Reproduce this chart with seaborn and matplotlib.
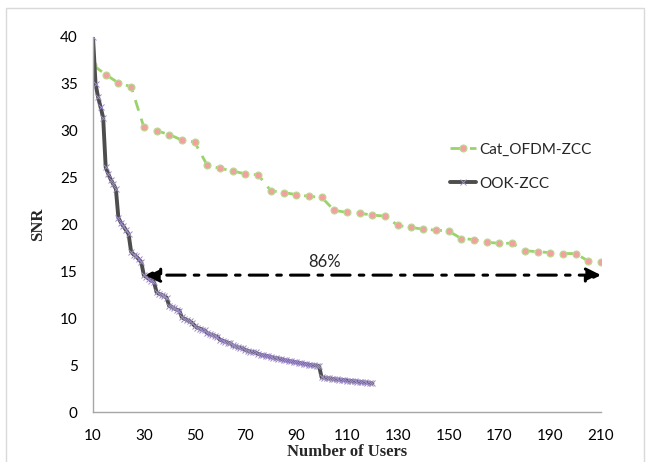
import numpy as np
import pandas as pd
import matplotlib
matplotlib.use("Agg")
import matplotlib.pyplot as plt
from matplotlib.patches import Rectangle
import seaborn as sns

# Cat_OFDM-ZCC, one point every 5 users
ofdm_users = list(range(10, 211, 5))
ofdm_snr = [37.0, 36.0, 35.1, 34.7, 30.4, 30.0, 29.6, 29.0, 28.8, 26.3,
            26.0, 25.7, 25.4, 25.3, 23.6, 23.4, 23.2, 23.0, 22.9, 21.5,
            21.3, 21.2, 21.0, 20.9, 19.9, 19.7, 19.5, 19.4, 19.3, 18.5,
            18.4, 18.1, 18.0, 18.0, 17.2, 17.1, 17.0, 16.9, 16.9, 16.1,
            16.0]

# OOK-ZCC, one point per user (10..120)
ook_users = list(range(10, 121))
ook_snr = [40.0, 35.0, 33.6, 32.5, 31.4,
           26.1, 25.4, 24.8, 24.3, 23.8,
           20.7, 20.2, 19.8, 19.4, 19.0,
           17.1, 16.8, 16.6, 16.3, 16.0,
           14.6, 14.4, 14.2, 14.0, 13.9,
           12.8, 12.6, 12.5, 12.35, 12.2,
           11.3, 11.2, 11.05, 10.9, 10.8,
           10.1, 9.95, 9.8, 9.7, 9.5,
           9.2, 9.0, 8.9, 8.8, 8.7,
           8.4, 8.3, 8.2, 8.1, 8.0,
           7.7, 7.6, 7.5, 7.4, 7.35,
           7.1, 7.0, 6.9, 6.85, 6.8,
           6.6, 6.5, 6.45, 6.4, 6.35,
           6.2, 6.1, 6.05, 6.0, 5.95,
           5.85, 5.8, 5.75, 5.7, 5.65,
           5.55, 5.5, 5.45, 5.4, 5.35,
           5.3, 5.25, 5.2, 5.15, 5.1,
           5.05, 5.0, 4.98, 4.95, 4.92,
           3.7, 3.65, 3.6, 3.58, 3.55,
           3.5, 3.47, 3.45, 3.42, 3.4,
           3.35, 3.33, 3.3, 3.28, 3.25,
           3.2, 3.18, 3.15, 3.13, 3.1,
           3.05]

x_ticks = list(range(10, 211, 20))
y_ticks = list(range(0, 41, 5))

ofdm = pd.DataFrame({"users": ofdm_users, "snr": ofdm_snr})
ook = pd.DataFrame({"users": ook_users, "snr": ook_snr})

sns.set_style("white")
plt.rcParams["font.family"] = ["Lato", "DejaVu Sans"]

fig = plt.figure(figsize=(6.48, 4.62), dpi=100)
ax = fig.add_axes([93 / 648, 1 - 412 / 462, (601 - 93) / 648, (412 - 37) / 462])

# light frame around the whole chart
fig.patches.append(Rectangle((6 / 648, -0.02), (644 - 6) / 648, 1.02 - 8 / 462,
                             transform=fig.transFigure, fill=False,
                             edgecolor="#d9d9d9", linewidth=1))

sns.lineplot(data=ofdm, x="users", y="snr", ax=ax, color="#9bd36b",
             linestyle=(0, (4, 3)), linewidth=2, marker="o", markersize=5,
             markerfacecolor="#f2a0a0", markeredgecolor="#b5dc8e",
             markeredgewidth=0.8, label="Cat_OFDM-ZCC")
sns.lineplot(data=ook, x="users", y="snr", ax=ax, color="#4d4d4d",
             linewidth=2.8, marker="x", markersize=4.5,
             markeredgecolor="#9e8cc8", markeredgewidth=0.7,
             label="OOK-ZCC")

# 86% arrow
ax.annotate("", xy=(30.5, 14.6), xytext=(210, 14.6),
            arrowprops=dict(arrowstyle="<|-|>", color="black", lw=2.2,
                            linestyle=(0, (6, 3, 1.5, 3)),
                            mutation_scale=22, shrinkA=0, shrinkB=0))
ax.text(101, 15.1, "86%", fontsize=12, ha="center", va="bottom")

ax.set_xlim(10, 210)
ax.set_ylim(0, 40)
ax.set_xticks(x_ticks)
ax.set_yticks(y_ticks)
ax.tick_params(axis="both", direction="inout", length=10, width=1,
               color="#a6a6a6", labelsize=11, labelcolor="black")
ax.tick_params(axis="x", pad=7)
ax.tick_params(axis="y", pad=6)
for side in ("top", "right"):
    ax.spines[side].set_visible(False)
for side in ("left", "bottom"):
    ax.spines[side].set_color("#a6a6a6")
    ax.spines[side].set_linewidth(1)

ax.set_xlabel("Number of Users", family="Liberation Serif", fontweight="bold",
              fontsize=12, labelpad=1)
ax.set_ylabel("SNR", family="Liberation Serif", fontweight="bold",
              fontsize=12, labelpad=10)

leg = ax.legend(loc="upper left", bbox_to_anchor=(436 / 648, 1 - 129 / 462),
                bbox_transform=fig.transFigure, frameon=False, fontsize=11,
                handlelength=1.7, handletextpad=0.2, labelspacing=1.3)

fig.savefig("out.png", dpi=100)
